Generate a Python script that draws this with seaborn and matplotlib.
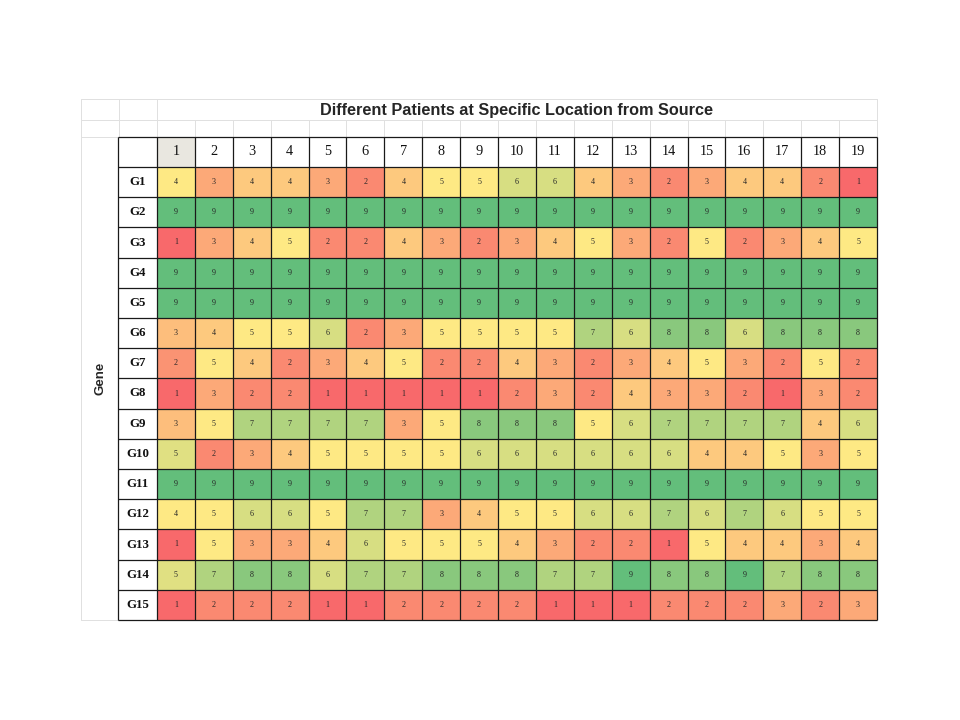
import numpy as np
import pandas as pd
import matplotlib.pyplot as plt
import seaborn as sns
from matplotlib.colors import LinearSegmentedColormap
from matplotlib.patches import Rectangle

sns.set_theme(style="white")
plt.rcParams['font.family'] = ['Liberation Sans', 'DejaVu Sans']

# Data: one list per gene, columns are patients 1..19
patients = [str(i) for i in range(1, 20)]
genes = ['G%d' % i for i in range(1, 16)]

g1 = [4, 3, 4, 4, 3, 2, 4, 5, 5, 6, 6, 4, 3, 2, 3, 4, 4, 2, 1]
g2 = [9, 9, 9, 9, 9, 9, 9, 9, 9, 9, 9, 9, 9, 9, 9, 9, 9, 9, 9]
g3 = [1, 3, 4, 5, 2, 2, 4, 3, 2, 3, 4, 5, 3, 2, 5, 2, 3, 4, 5]
g4 = [9, 9, 9, 9, 9, 9, 9, 9, 9, 9, 9, 9, 9, 9, 9, 9, 9, 9, 9]
g5 = [9, 9, 9, 9, 9, 9, 9, 9, 9, 9, 9, 9, 9, 9, 9, 9, 9, 9, 9]
g6 = [3, 4, 5, 5, 6, 2, 3, 5, 5, 5, 5, 7, 6, 8, 8, 6, 8, 8, 8]
g7 = [2, 5, 4, 2, 3, 4, 5, 2, 2, 4, 3, 2, 3, 4, 5, 3, 2, 5, 2]
g8 = [1, 3, 2, 2, 1, 1, 1, 1, 1, 2, 3, 2, 4, 3, 3, 2, 1, 3, 2]
g9 = [3, 5, 7, 7, 7, 7, 3, 5, 8, 8, 8, 5, 6, 7, 7, 7, 7, 4, 6]
g10 = [5, 2, 3, 4, 5, 5, 5, 5, 6, 6, 6, 6, 6, 6, 4, 4, 5, 3, 5]
g11 = [9, 9, 9, 9, 9, 9, 9, 9, 9, 9, 9, 9, 9, 9, 9, 9, 9, 9, 9]
g12 = [4, 5, 6, 6, 5, 7, 7, 3, 4, 5, 5, 6, 6, 7, 6, 7, 6, 5, 5]
g13 = [1, 5, 3, 3, 4, 6, 5, 5, 5, 4, 3, 2, 2, 1, 5, 4, 4, 3, 4]
g14 = [5, 7, 8, 8, 6, 7, 7, 8, 8, 8, 7, 7, 9, 8, 8, 9, 7, 8, 8]
g15 = [1, 2, 2, 2, 1, 1, 2, 2, 2, 2, 1, 1, 1, 2, 2, 2, 3, 2, 3]

values = np.array([g1, g2, g3, g4, g5, g6, g7, g8, g9, g10,
                   g11, g12, g13, g14, g15])
df = pd.DataFrame(values, index=genes, columns=patients)


# Excel style 3-colour scale: min -> red, median -> yellow, max -> green
def excel_scale(block):
    lo, mid, hi = block.min(), np.median(block), block.max()
    low = 0.5 * (block - lo) / (mid - lo)
    high = 0.5 + 0.5 * (block - mid) / (hi - mid)
    return np.where(block <= mid, low, high)


# first column was formatted on its own, the rest as one block
scaled = np.zeros(values.shape, dtype=float)
scaled[:, :1] = excel_scale(values[:, :1].astype(float))
scaled[:, 1:] = excel_scale(values[:, 1:].astype(float))
df_scaled = pd.DataFrame(scaled, index=genes, columns=patients)

cmap = LinearSegmentedColormap.from_list('excel', ['#f8696b', '#ffe984', '#63be7b'])

fig = plt.figure(figsize=(9.6, 7.2), dpi=100)

# background sheet (pixel coordinates) for the faint Excel gridlines
bg = fig.add_axes([0, 0, 1, 1])
bg.set_xlim(0, 960)
bg.set_ylim(720, 0)
bg.axis('off')
grid_c = '#e0e0e0'
col_w = 720 / 19
bg.plot([81, 877], [99, 99], color=grid_c, lw=0.7)
bg.plot([81, 877], [120, 120], color=grid_c, lw=0.7)
bg.plot([81, 118], [137, 137], color=grid_c, lw=0.7)
bg.plot([81, 118], [620, 620], color=grid_c, lw=0.7)
bg.plot([81, 81], [99, 620], color=grid_c, lw=0.7)
for x in [119, 157, 877]:
    bg.plot([x, x], [99, 137], color=grid_c, lw=0.7)
for k in range(1, 19):
    x = 157 + k * col_w
    bg.plot([x, x], [120, 137], color=grid_c, lw=0.7)

bg.text(517, 110, 'Different Patients at Specific Location from Source',
        ha='center', va='center', fontsize=11.7, fontweight='bold')
bg.text(100, 378, 'Gene', rotation=90, ha='center', va='center',
        fontsize=9.5, fontweight='bold')

# heatmap body
ax = fig.add_axes([157 / 960, 100 / 720, 720 / 960, 453 / 720])
sns.heatmap(df_scaled, ax=ax, cmap=cmap, vmin=0, vmax=1, cbar=False,
            annot=df, fmt='d',
            annot_kws={'fontsize': 5.8, 'family': 'Liberation Serif', 'color': '#262626'},
            linewidths=0, xticklabels=False, yticklabels=False)

# header row with patient numbers
lab_w = 39 / col_w
for j, p in enumerate(patients):
    face = '#e9e7e0' if j == 0 else 'white'
    ax.add_patch(Rectangle((j, -1), 1, 1, facecolor=face, edgecolor='none',
                           clip_on=False))
    ax.text(j + 0.5, -0.5, p, ha='center', va='center', fontsize=10.3,
            family='Liberation Serif', color='#111111')

# row label column with gene names
for i, g in enumerate(genes):
    ax.text(-lab_w / 2, i + 0.5, g, ha='center', va='center', fontsize=9.3,
            family='Liberation Serif', fontweight='bold', color='#111111')

# black cell borders of the table
line_c = '#1a1a1a'
ax.hlines(np.arange(-1, len(genes) + 1), -lab_w, len(patients),
          colors=line_c, lw=0.9, clip_on=False)
ax.vlines(np.arange(0, len(patients) + 1), -1, len(genes),
          colors=line_c, lw=0.9, clip_on=False)
ax.vlines([-lab_w], -1, len(genes), colors=line_c, lw=0.9, clip_on=False)

fig.savefig('out.png', dpi=100)
